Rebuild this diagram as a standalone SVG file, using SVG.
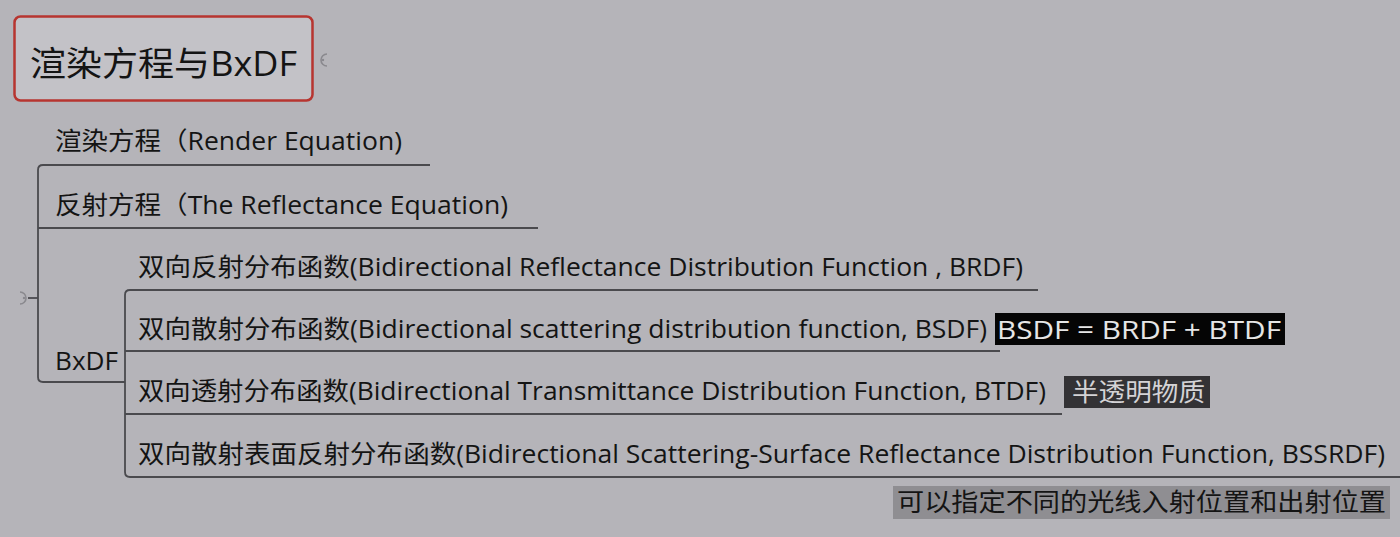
<svg xmlns="http://www.w3.org/2000/svg" width="1400" height="537" viewBox="0 0 1400 537">
  <style>
    .bg { fill: #b5b4b9; }
    .t { font-family: "Open Sans", "Noto Sans CJK SC", sans-serif; font-size: 25px; fill: #141414; }
    .root { font-family: "Open Sans", "Noto Sans CJK SC", sans-serif; font-size: 34px; fill: #141414; }
    .link { fill: none; stroke: #4a4a4e; stroke-width: 1.8; }
    .toggle { fill: none; stroke: #8a898e; stroke-width: 1.6; }
  </style>
  <rect class="bg" x="0" y="0" width="1400" height="537"/>

  <!-- connectors -->
  <g id="connectors">
    <!-- root branch -->
    <path class="link" d="M430 165 H43 Q38 165 38 170 V377 Q38 382 43 382 H125"/>
    <path class="link" d="M38 228 H538"/>
    <path class="link" d="M28 298 H38"/>
    <!-- BxDF branch -->
    <path class="link" d="M1038 290 H130 Q125 290 125 295 V472 Q125 477 130 477 H1400"/>
    <path class="link" d="M125 351 H1000"/>
    <path class="link" d="M125 414 H1062"/>
    <!-- fold toggles -->
    <path class="toggle" d="M327 54 A6 6 0 1 0 327 66"/>
    <circle cx="323" cy="60" r="1.2" fill="#8a898e"/>
    <path class="toggle" d="M20 292 A6 6 0 1 1 20 304"/>
    <circle cx="24" cy="298" r="1.2" fill="#8a898e"/>
  </g>

  <g id="root">
    <rect x="14.5" y="16.5" width="298" height="84" rx="6" fill="#c3c2c7" stroke="#b73530" stroke-width="2.5"/>
    <text class="root" x="30" y="76" textLength="267" lengthAdjust="spacingAndGlyphs">渲染方程与BxDF</text>
  </g>

  <g id="render-equation">
    <text class="t" x="55" y="150" textLength="347" lengthAdjust="spacingAndGlyphs">渲染方程（Render Equation)</text>
  </g>

  <g id="reflectance-equation">
    <text class="t" x="55" y="214" textLength="453" lengthAdjust="spacingAndGlyphs">反射方程（The Reflectance Equation)</text>
  </g>

  <g id="bxdf">
    <text class="t" x="55" y="370" textLength="63" lengthAdjust="spacingAndGlyphs">BxDF</text>
  </g>

  <g id="brdf">
    <text class="t" x="138" y="276" textLength="885" lengthAdjust="spacingAndGlyphs">双向反射分布函数(Bidirectional Reflectance Distribution Function , BRDF)</text>
  </g>

  <g id="bsdf">
    <text class="t" x="138" y="338" textLength="849" lengthAdjust="spacingAndGlyphs">双向散射分布函数(Bidirectional scattering distribution function, BSDF)</text>
    <rect x="995" y="313" width="290" height="32" fill="#050505"/>
    <text class="t" x="997" y="339" style="fill:#e6e6e6" textLength="284" lengthAdjust="spacingAndGlyphs">BSDF = BRDF + BTDF</text>
  </g>

  <g id="btdf">
    <text class="t" x="138" y="400" textLength="908" lengthAdjust="spacingAndGlyphs">双向透射分布函数(Bidirectional Transmittance Distribution Function, BTDF)</text>
    <rect x="1064" y="376" width="146" height="32" fill="#333235"/>
    <text class="t" x="1072" y="401" style="fill:#d4d3d6" textLength="133" lengthAdjust="spacingAndGlyphs">半透明物质</text>
  </g>

  <g id="bssrdf">
    <text class="t" x="138" y="463" textLength="1247" lengthAdjust="spacingAndGlyphs">双向散射表面反射分布函数(Bidirectional Scattering-Surface Reflectance Distribution Function, BSSRDF)</text>
    <rect x="893" y="486" width="497" height="33" fill="#8f8e92"/>
    <text class="t" x="897" y="511" textLength="489" lengthAdjust="spacingAndGlyphs">可以指定不同的光线入射位置和出射位置</text>
  </g>
</svg>
